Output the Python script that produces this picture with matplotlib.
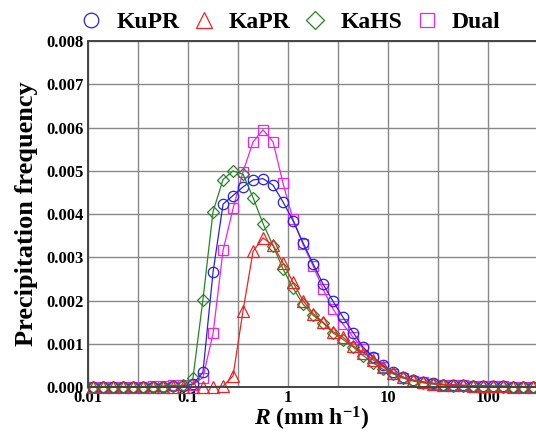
import matplotlib
matplotlib.use("Agg")
import matplotlib.pyplot as plt
from matplotlib.lines import Line2D
from matplotlib.ticker import FixedLocator, FuncFormatter

plt.rcParams['font.family'] = ['Liberation Serif', 'DejaVu Serif']
plt.rcParams['font.weight'] = 'bold'
plt.rcParams['mathtext.fontset'] = 'custom'
plt.rcParams['mathtext.rm'] = 'Liberation Serif:bold'
plt.rcParams['mathtext.it'] = 'Liberation Serif:bold:italic'
plt.rcParams['mathtext.bf'] = 'Liberation Serif:bold'

# bin centres of rain rate (mm/h)
rain_rate = [0.0112, 0.0141, 0.0178, 0.0224, 0.0282, 0.0355, 0.0447, 0.0562, 0.0708, 0.0891,
             0.112, 0.141, 0.178, 0.224, 0.282, 0.355, 0.447, 0.562, 0.708, 0.891,
             1.12, 1.41, 1.78, 2.24, 2.82, 3.55, 4.47, 5.62, 7.08, 8.91,
             11.2, 14.1, 17.8, 22.4, 28.2, 35.5, 44.7, 56.2, 70.8, 89.1,
             112, 141, 178, 224, 282]

kupr = [0.00001, 0.00001, 0.00001, 0.00001, 0.00001, 0.00001, 0.00001, 0.00001, 0.00002, 0.00003,
        0.00007, 0.00034, 0.00266, 0.00423, 0.00443, 0.00463, 0.00479, 0.00482, 0.00467, 0.00428,
        0.00385, 0.00334, 0.00285, 0.00238, 0.00198, 0.00161, 0.00126, 0.00092, 0.00070, 0.00050,
        0.00034, 0.00023, 0.00016, 0.00012, 0.00009, 0.00006, 0.00005, 0.00004, 0.00003, 0.00003,
        0.00002, 0.00002, 0.00001, 0.00001, 0.00001]

kapr = [0.00001, 0.00001, 0.00001, 0.00001, 0.00001, 0.00001, 0.00001, 0.00001, 0.00001, 0.00001,
        0.00001, 0.00001, 0.00001, 0.00002, 0.00026, 0.00177, 0.00314, 0.00345, 0.00328, 0.00287,
        0.00242, 0.00200, 0.00170, 0.00150, 0.00128, 0.00115, 0.00095, 0.00080, 0.00063, 0.00047,
        0.00033, 0.00023, 0.00016, 0.00011, 0.00008, 0.00006, 0.00005, 0.00004, 0.00003, 0.00003,
        0.00002, 0.00002, 0.00001, 0.00001, 0.00001]

kahs = [0.00001, 0.00001, 0.00001, 0.00001, 0.00001, 0.00001, 0.00001, 0.00001, 0.00002, 0.00004,
        0.00020, 0.00202, 0.00406, 0.00480, 0.00500, 0.00492, 0.00438, 0.00378, 0.00327, 0.00273,
        0.00229, 0.00192, 0.00166, 0.00148, 0.00125, 0.00110, 0.00093, 0.00073, 0.00056, 0.00041,
        0.00031, 0.00021, 0.00014, 0.00010, 0.00007, 0.00005, 0.00003, 0.00002, 0.00002, 0.00001,
        0.00001, 0.00001, 0.00000, 0.00000, 0.00000]

dual = [0.00001, 0.00001, 0.00001, 0.00001, 0.00001, 0.00001, 0.00002, 0.00003, 0.00004, 0.00004,
        0.00006, 0.00022, 0.00124, 0.00316, 0.00413, 0.00498, 0.00567, 0.00595, 0.00567, 0.00471,
        0.00388, 0.00330, 0.00280, 0.00226, 0.00180, 0.00145, 0.00115, 0.00089, 0.00068, 0.00047,
        0.00031, 0.00021, 0.00015, 0.00011, 0.00008, 0.00006, 0.00005, 0.00004, 0.00003, 0.00003,
        0.00002, 0.00002, 0.00001, 0.00001, 0.00001]

y_ticks = [0.000, 0.001, 0.002, 0.003, 0.004, 0.005, 0.006, 0.007, 0.008]
x_ticks = [0.01, 0.1, 1, 10, 100]

fig = plt.figure(figsize=(5.36, 4.33), dpi=100)
ax = fig.add_axes([0.164, 0.106, 0.836, 0.799])

style = dict(lw=0.9, ms=7.5, mew=0.9, mfc='none', clip_on=False)
series = [
    (dual, 's', '#ee22ee', 'Dual', 7.5),
    (kupr, 'o', '#2222ee', 'KuPR', 7.5),
    (kahs, 'D', '#228822', 'KaHS', 6.5),
    (kapr, '^', '#ee2222', 'KaPR', 8.0),
]
handles = {}
for vals, mk, col, name, size in series:
    ax.plot(rain_rate, vals, '-', marker=mk, color=col, **dict(style, ms=size))
    handles[name] = Line2D([], [], ls='none', marker=mk, color=col, mfc='none',
                           ms=size * 1.4, mew=0.9, label=name)

ax.set_xscale('log')
ax.set_xlim(0.01, 300)
ax.set_ylim(0, 0.008)
ax.xaxis.set_major_locator(FixedLocator(x_ticks))
ax.xaxis.set_major_formatter(FuncFormatter(lambda v, p: '%g' % v))
ax.xaxis.set_minor_locator(FixedLocator([0.0316, 0.316, 3.16, 31.6]))
ax.set_yticks(y_ticks)
ax.yaxis.set_major_formatter(FuncFormatter(lambda v, p: '%.3f' % v))

ax.grid(True, which='both', color='#888888', lw=1.0)
ax.set_axisbelow(True)
ax.tick_params(which='both', length=0, labelsize=12, pad=3)
ax.tick_params(axis='x', pad=2)
for s in ['left', 'bottom', 'top']:
    ax.spines[s].set_color('#444444')
    ax.spines[s].set_linewidth(1.4)
ax.spines['right'].set_visible(False)

ax.set_xlabel(r'$R$ (mm h$^{-1}$)', fontsize=17, fontweight='bold', labelpad=-1)
ax.set_ylabel('Precipitation frequency', fontsize=19, fontweight='bold', labelpad=6)

fig.legend(handles=[handles[n] for n in ['KuPR', 'KaPR', 'KaHS', 'Dual']],
           loc='center', bbox_to_anchor=(0.541, 0.949),
           ncol=4, frameon=False, fontsize=17, handlelength=1.0, handletextpad=0.55,
           columnspacing=0.55, borderpad=0)

fig.savefig('out.png', dpi=100)
